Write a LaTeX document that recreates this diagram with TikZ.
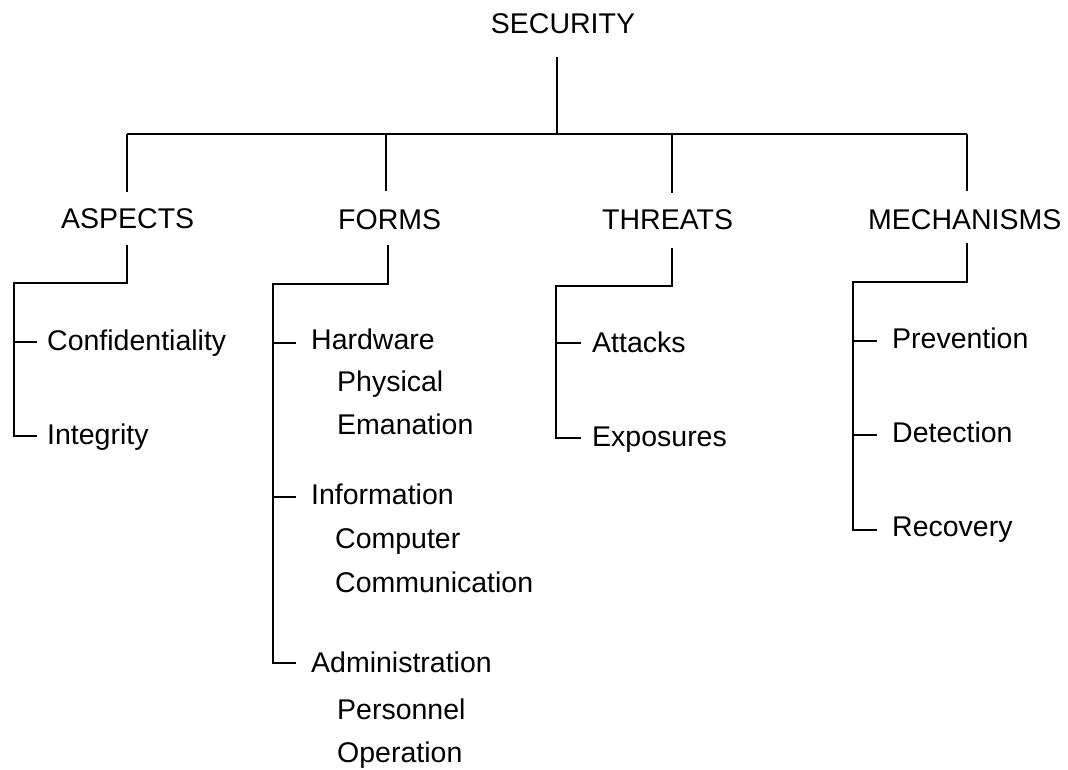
\documentclass[tikz,border=0pt]{standalone}
\usepackage{fontspec}
\setmainfont{Liberation Sans}
\begin{document}
\begin{tikzpicture}[x=1pt,y=-1pt,
  lbl/.style={inner sep=0pt, anchor=base west, font=\fontsize{28.5}{34}\selectfont},
  link/.style={line width=2.4pt, line join=miter}]
\useasboundingbox (0,0) rectangle (1068,769);
% texts
\node[lbl, anchor=base] (sec) at (563,33) {SECURITY};
\node[lbl] (aspects) at (61,228) {ASPECTS};
\node[lbl] (forms) at (338,229) {FORMS};
\node[lbl] (threats) at (602,229) {THREATS};
\node[lbl] (mech) at (868,229) {MECHANISMS};
\node[lbl] (conf) at (47,350) {Confidentiality};
\node[lbl] (integ) at (47,444) {Integrity};
\node[lbl] (hard) at (311,349) {Hardware};
\node[lbl] (phys) at (337,391) {Physical};
\node[lbl] (eman) at (337,434) {Emanation};
\node[lbl] (info) at (311,504) {Information};
\node[lbl] (comp) at (335,548) {Computer};
\node[lbl] (comm) at (335,592) {Communication};
\node[lbl] (admin) at (311,672) {Administration};
\node[lbl] (pers) at (337,719) {Personnel};
\node[lbl] (oper) at (337,762) {Operation};
\node[lbl] (att) at (592,352) {Attacks};
\node[lbl] (expo) at (592,446) {Exposures};
\node[lbl] (prev) at (892,348) {Prevention};
\node[lbl] (det) at (892,442) {Detection};
\node[lbl] (rec) at (892,536) {Recovery};
% top level connectors
\coordinate (s0) at (557,57);
\coordinate (s1) at (557,134);
\coordinate (hL) at (127,134);
\coordinate (hR) at (967,134);
\coordinate (aT) at (127,192);
\coordinate (fT) at (386,191);
\coordinate (tT) at (672,193);
\coordinate (mT) at (967,191);
\draw[link] (s0) -- (s1);
\draw[link] (hL) -- (hR);
\draw[link] (aT |- hL) -- (aT);
\draw[link] (fT |- hL) -- (fT);
\draw[link] (tT |- hL) -- (tT);
\draw[link] (mT |- hL) -- (mT);
% ASPECTS
\coordinate (aB) at (127,245);
\coordinate (aE) at (14,283);
\coordinate (confW) at (37,342);
\coordinate (integW) at (37,436);
\draw[link] (aB) -- (aB |- aE) -- (aE) -- (aE |- integW) -- (integW);
\draw[link] (aE |- confW) -- (confW);
% FORMS
\coordinate (fB) at (388,245);
\coordinate (fE) at (273,284);
\coordinate (hardW) at (296,343);
\coordinate (infoW) at (296,497);
\coordinate (adminW) at (296,663);
\draw[link] (fB) -- (fB |- fE) -- (fE) -- (fE |- adminW) -- (adminW);
\draw[link] (fE |- hardW) -- (hardW);
\draw[link] (fE |- infoW) -- (infoW);
% THREATS
\coordinate (tB) at (672,248);
\coordinate (tE) at (556,286);
\coordinate (attW) at (581,343);
\coordinate (expoW) at (581,438);
\draw[link] (tB) -- (tB |- tE) -- (tE) -- (tE |- expoW) -- (expoW);
\draw[link] (tE |- attW) -- (attW);
% MECHANISMS
\coordinate (mB) at (967,243);
\coordinate (mE) at (853,282);
\coordinate (prevW) at (877,341);
\coordinate (detW) at (877,435);
\coordinate (recW) at (877,530);
\draw[link] (mB) -- (mB |- mE) -- (mE) -- (mE |- recW) -- (recW);
\draw[link] (mE |- prevW) -- (prevW);
\draw[link] (mE |- detW) -- (detW);
\end{tikzpicture}
\end{document}
